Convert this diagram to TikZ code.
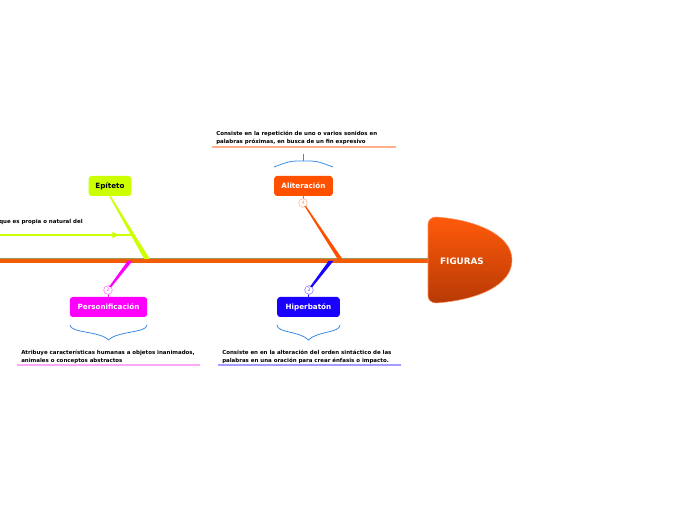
\documentclass[tikz,border=0pt]{standalone}
\usepackage{fontspec}
\setmainfont{DejaVu Sans}
\usepackage{xcolor}
\definecolor{spineOrange}{HTML}{F25C05}
\definecolor{spineEdge}  {HTML}{9C9A58}
\definecolor{figTop}     {HTML}{FF5A0A}
\definecolor{figBottom}  {HTML}{B83A05}
\definecolor{limeC}      {HTML}{CCFF00}
\definecolor{aliC}       {HTML}{FF5000}
\definecolor{perC}       {HTML}{FF00FF}
\definecolor{hipC}       {HTML}{1A00FF}
\definecolor{braceC}     {HTML}{3A8BE0}
\definecolor{aliLine}    {HTML}{FFB08A}
\definecolor{perLine}    {HTML}{FFA8F5}
\definecolor{hipLine}    {HTML}{A59CFF}
\usetikzlibrary{arrows.meta, positioning, calc}

\tikzset{
    topic/.style={rounded corners=2.2pt, minimum height=15pt, inner sep=0pt,
        font=\bfseries\fontsize{5.4}{6}\selectfont},
    num/.style={circle, draw, fill=white, minimum size=6.5pt, inner sep=0pt,
        font=\fontsize{3.5}{4}\selectfont},
    note/.style={anchor=north west, align=left, inner sep=0pt,
        font=\bfseries\fontsize{4.1}{5.9}\selectfont},
    underline/.style={line width=0.9pt},
}

\begin{document}
\begin{tikzpicture}[x=0.75pt, y=-0.75pt]
    \useasboundingbox (0,0) rectangle (696,520);

    % spine towards the main topic
    \coordinate (spineL) at (0,260);
    \coordinate (figL) at (428,260);
    \draw[spineEdge, line width=3.2pt] (spineL) -- (figL);
    \draw[spineOrange, line width=2.6pt] ($(spineL)+(0,0.8)$) -- ($(figL)+(0,0.8)$);

    % main topic
    \shade[top color=figTop, bottom color=figBottom, draw=figTop!70!white, line width=0.4pt]
        (428,224) -- (428,296) to[out=-90, in=180] (436,303)
        .. controls (478,300) and (512,285) .. (512,260)
        .. controls (512,236) and (478,220) .. (436,217)
        to[out=180, in=90] (428,224);
    \node[font=\bfseries\fontsize{6.6}{7}\selectfont, text=white] (fig) at (462,261) {FIGURAS};

    % junctions on the spine
    \coordinate (epiJ) at (147,259);
    \coordinate (aliJ) at (340,259);
    \coordinate (perJ) at (130,261);
    \coordinate (hipJ) at (331,261);

    % sub topics
    \node[topic, fill=limeC, minimum width=32pt] (epi) at (110,186) {Epíteto};
    \node[topic, fill=aliC, text=white, minimum width=44pt] (ali) at (303.5,186) {Aliteración};
    \node[topic, fill=perC, text=white, minimum width=58pt] (per) at (108.5,307) {Personificación};
    \node[topic, fill=hipC, text=white, minimum width=47pt] (hip) at (308.5,307) {Hiperbatón};

    % connectors (tapered)
    \fill[limeC] ($(epi.south)+(-0.8,0)$) -- ($(epiJ)+(-2.8,0)$) -- ($(epiJ)+(2.8,0)$)
        -- ($(epi.south)+(0.8,0)$) -- cycle;
    \node[num, draw=aliC!45, text=aliC!60] (aliN) at (303,203) {4};
    \fill[aliC] ($(aliN)+(1.4,3)$) -- ($(aliJ)+(-2.4,0)$) -- ($(aliJ)+(2.4,0)$)
        -- ($(aliN)+(3,3)$) -- cycle;
    \draw[aliC, line width=0.6pt] (ali.south) -- (aliN);
    \node[num, draw=perC!55, text=perC!70] (perN) at (108,290) {2};
    \fill[perC] ($(perN)+(1.2,-3.5)$) -- ($(perJ)+(-2.4,0)$) -- ($(perJ)+(2.4,0)$)
        -- ($(perN)+(3,-2.5)$) -- cycle;
    \draw[perC, line width=0.6pt] (perN) -- (per.north);
    \node[num, draw=hipC!55, text=hipC!70] (hipN) at (309,290) {2};
    \fill[hipC] ($(hipN)+(1.2,-3.5)$) -- ($(hipJ)+(-2.4,0)$) -- ($(hipJ)+(2.4,0)$)
        -- ($(hipN)+(3,-2.5)$) -- cycle;
    \draw[hipC, line width=0.6pt] (hipN) -- (hip.north);

    % Epiteto relation line
    \coordinate (relL) at (0,235);
    \coordinate (relR) at (133,235);
    \coordinate (relTip) at (119,235);
    \draw[limeC, line width=1pt] (relL) -- (relR);
    \draw[limeC, line width=1pt, -{Triangle[length=5pt, width=4.5pt]}] (relL) -- (relTip);
    \node[note, anchor=west] (relText) at (-1,222) {que es propia o natural del};

    % Aliteracion note
    \node[note] (aliNote) at (216,131) {Consiste en la repetición de uno o varios sonidos en\\palabras próximas, en busca de un fin expresivo};
    \draw[aliLine, underline] (212,147) -- (396,147);
    \coordinate (aliB) at (303.5,161);
    \draw[braceC, line width=0.6pt] (274,167) .. controls (290,161) .. (aliB)
        .. controls (317,161) .. (333,167);
    \draw[braceC, line width=0.6pt] (aliB) -- (303.5,154);

    % Personificacion note
    \coordinate (perB) at (108.5,340);
    \draw[braceC, line width=0.6pt] (70,325) .. controls (70,333) and (100,331) .. (perB)
        .. controls (117,331) and (147,333) .. (147,325);
    \node[note] (perNote) at (21,350) {Atribuye características humanas a objetos inanimados,\\animales o conceptos abstractos};
    \draw[perLine, underline] (17,365) -- (200,365);

    % Hiperbaton note
    \coordinate (hipB) at (308.5,340);
    \draw[braceC, line width=0.6pt] (277,325) .. controls (277,333) and (300,331) .. (hipB)
        .. controls (317,331) and (340,333) .. (340,325);
    \node[note] (hipNote) at (222,350) {Consiste en en la alteración del orden sintáctico de las\\palabras en una oración para crear énfasis o impacto.};
    \draw[hipLine, underline] (218,365) -- (401,365);
\end{tikzpicture}
\end{document}
